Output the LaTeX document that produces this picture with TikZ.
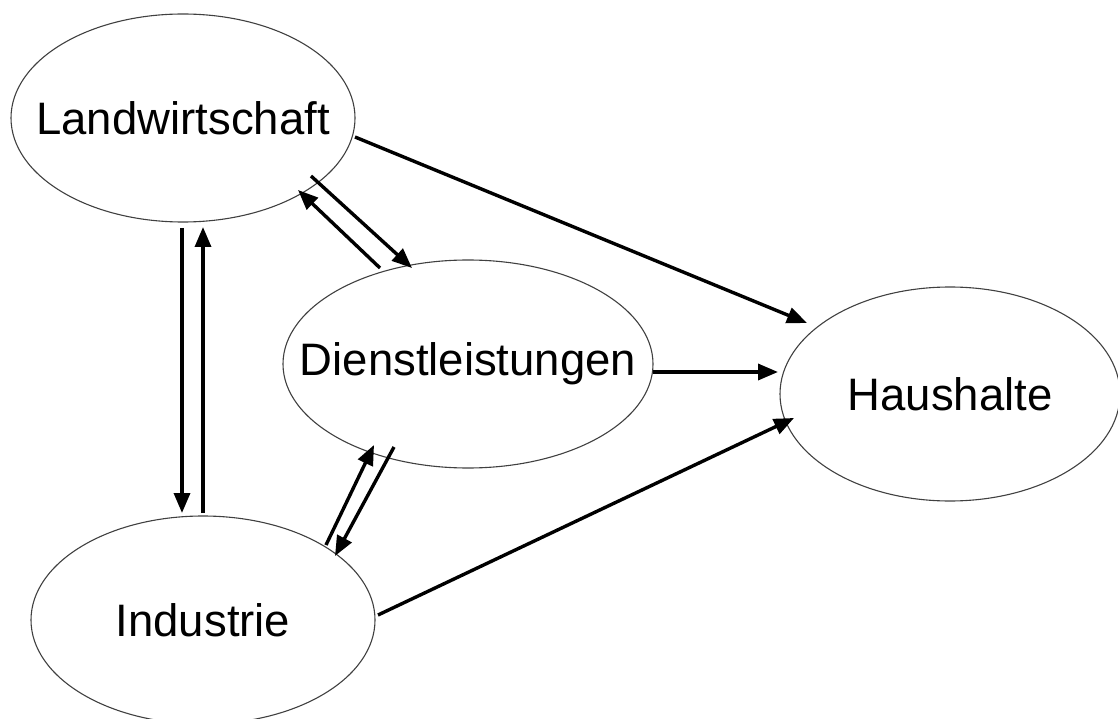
\documentclass[tikz,border=0pt]{standalone}
\usepackage{fontspec}
\setmainfont{Liberation Sans}
\usetikzlibrary{arrows.meta}
\begin{document}
\begin{tikzpicture}[x=1pt,y=-1pt,
  sector/.style={inner sep=0pt,font=\fontsize{45.5}{54}\selectfont},
  rim/.style={draw=black!75,line width=1.1pt},
  flow/.style={line width=3.4pt,-{Triangle[length=20pt,width=16pt]}}]
\useasboundingbox (0,0) rectangle (1118,719);
\node[sector] (L) at (183,118) {Landwirtschaft};
\node[sector] (D) at (468,364) {Dienstleistungen};
\node[sector] (H) at (950,394) {Haushalte};
\node[sector] (I) at (203,620) {Industrie};
\draw[rim] (L.center) ellipse [x radius=172pt, y radius=104pt];
\draw[rim] (D.center) ellipse [x radius=185pt, y radius=104pt];
\draw[rim] (H.center) ellipse [x radius=170pt, y radius=107pt];
\draw[rim] (I.center) ellipse [x radius=172pt, y radius=104pt];
% endpoints
\coordinate (LH1) at (355,137); \coordinate (LH2) at (807,323);
\coordinate (LD1) at (311,176); \coordinate (LD2) at (412,268);
\coordinate (DL1) at (380,268); \coordinate (DL2) at (298,190);
\coordinate (DH1) at (653,372); \coordinate (DH2) at (778,372);
\coordinate (IH1) at (378,615); \coordinate (IH2) at (794,418);
\coordinate (LI1) at (182,228); \coordinate (LI2) at (182,513);
\coordinate (IL1) at (203,513); \coordinate (IL2) at (203,227);
\coordinate (DI1) at (394,447); \coordinate (DI2) at (335,556);
\coordinate (ID1) at (326,545); \coordinate (ID2) at (374,445);
\draw[flow] (LH1) -- (LH2);
\draw[flow] (LD1) -- (LD2);
\draw[flow] (DL1) -- (DL2);
\draw[flow] (DH1) -- (DH2);
\draw[flow] (IH1) -- (IH2);
\draw[flow] (LI1) -- (LI2);
\draw[flow] (IL1) -- (IL2);
\draw[flow] (DI1) -- (DI2);
\draw[flow] (ID1) -- (ID2);
\end{tikzpicture}
\end{document}
